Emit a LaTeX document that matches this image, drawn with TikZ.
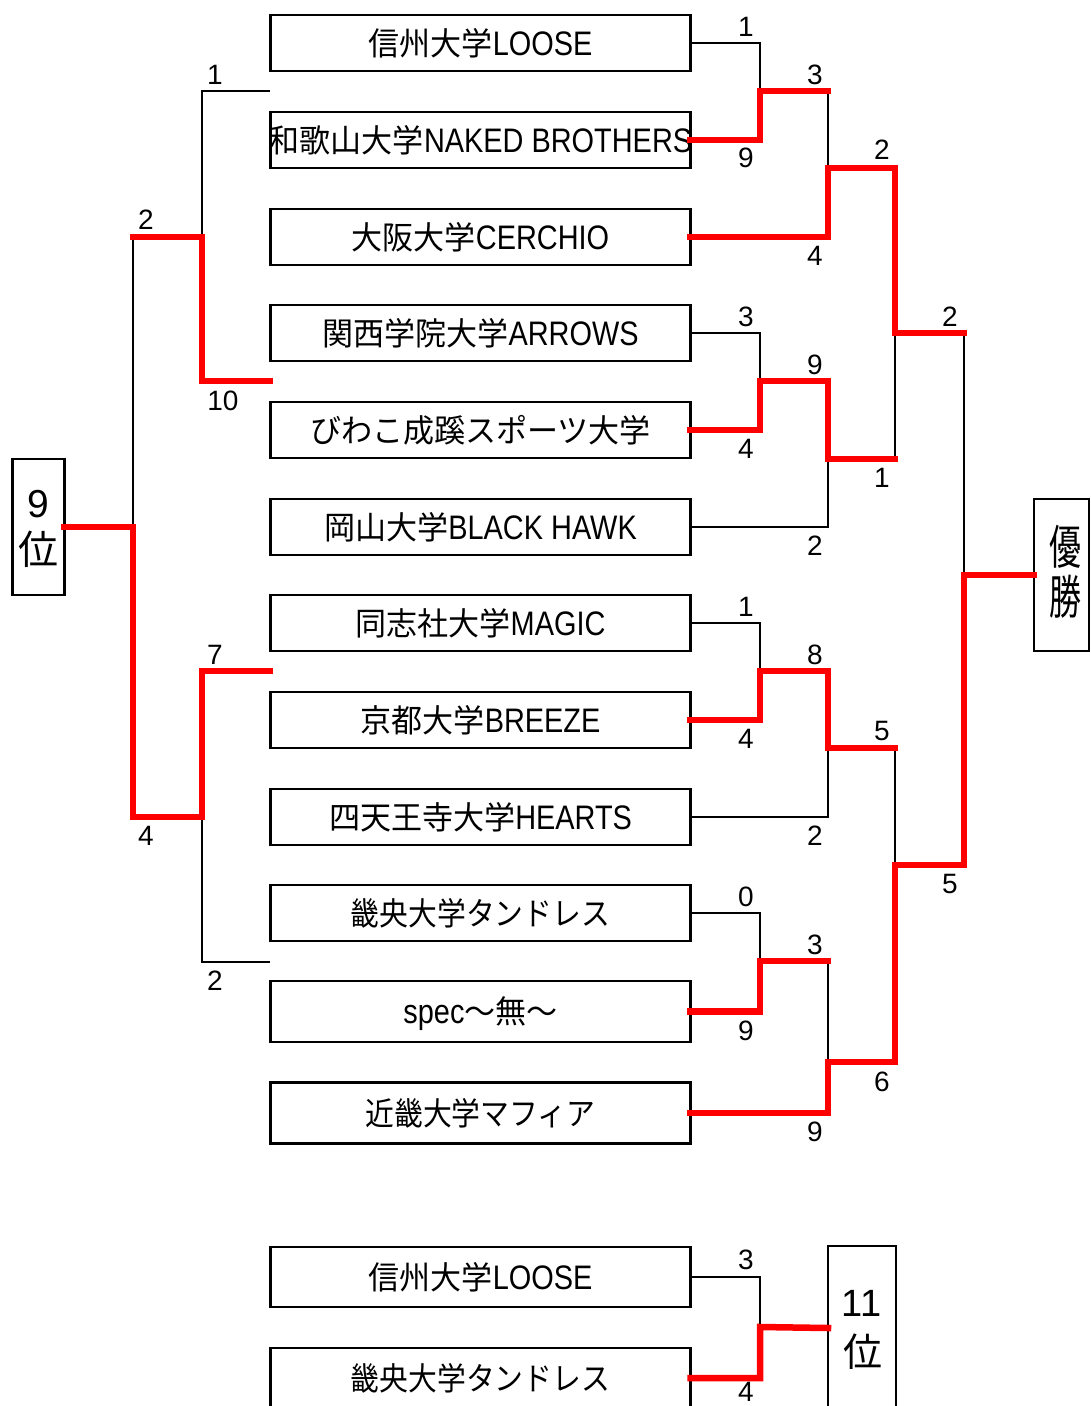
\documentclass[tikz,border=0pt]{standalone}
\usepackage{fontspec}
\setmainfont{Liberation Sans}
\newfontfamily\cjk{Noto Sans CJK JP}[FakeStretch=0.97]
\newfontfamily\cjkk{Noto Sans CJK JP}[FakeStretch=0.90]
\newfontfamily\cjkw{Noto Sans CJK JP}
\newfontfamily\cjkn{Noto Sans CJK JP}[FakeStretch=0.68]
\newfontfamily\lat{Liberation Sans}[FakeStretch=0.85]
\newcommand\jtxt[1]{{\fontsize{32}{40}\selectfont\cjk #1}}
\newcommand\ktxt[1]{{\fontsize{32}{40}\selectfont\cjkk #1}}
\begin{document}
\begin{tikzpicture}[x=1pt,y=-1pt,
  team/.style={draw, line width=2.8pt, minimum width=420pt, minimum height=56pt, inner sep=0pt, outer sep=0pt, text height=26pt, text depth=2pt, font=\fontsize{34}{40}\selectfont\lat},
  rank/.style={draw, line width=2.8pt, inner sep=0pt, outer sep=0pt},
  score/.style={inner sep=0pt, font=\fontsize{28}{32}\selectfont},
  lose/.style={draw=black, line width=2.6pt},
  win/.style={draw=red, line width=6.5pt, line join=miter, line cap=rect}]
\clip (0,0) rectangle (1091,1406);
\fill[white] (0,0) rectangle (1091,1406);

% teams
\node[team] (t1) at (480.5,43) {\jtxt{信州大学}LOOSE};
\node[team] (t2) at (480.5,140) {\makebox[400pt][c]{\jtxt{和歌山大学}NAKED BROTHERS}};
\node[team] (t3) at (480.5,237) {\jtxt{大阪大学}CERCHIO};
\node[team] (t4) at (480.5,333) {\jtxt{関西学院大学}ARROWS};
\node[team] (t5) at (480.5,430) {\jtxt{びわこ成蹊スポーツ大学}};
\node[team] (t6) at (480.5,527) {\jtxt{岡山大学}BLACK HAWK};
\node[team] (t7) at (480.5,623) {\jtxt{同志社大学}MAGIC};
\node[team] (t8) at (480.5,720) {\jtxt{京都大学}BREEZE};
\node[team] (t9) at (480.5,817) {\jtxt{四天王寺大学}HEARTS};
\node[team] (t10) at (480.5,913) {\ktxt{畿央大学タンドレス}};
\node[team, minimum height=61pt] (t11) at (480.5,1011.5) {spec\jtxt{〜無〜}};
\node[team, minimum height=61pt] (t12) at (480.5,1113) {\ktxt{近畿大学マフィア}};
\node[team, minimum height=60pt] (b1) at (480.5,1277) {\jtxt{信州大学}LOOSE};
\node[team, minimum height=60pt] (b2) at (480.5,1378) {\ktxt{畿央大学タンドレス}};

% rank boxes
\node[rank, minimum width=52pt, minimum height=136pt] (ninth) at (38.5,527) {};
\node[inner sep=0pt, font=\fontsize{39}{44}\selectfont] (ninthA) at (38.5,504) {9};
\node[inner sep=0pt, font=\fontsize{40}{44}\selectfont\cjkw] (ninthB) at (38,549.5) {位};
\node[rank, minimum width=55pt, minimum height=152pt] (champ) at (1061.5,575) {};
\node[inner sep=0pt, font=\fontsize{47}{50}\selectfont\cjkn] (champA) at (1065,547) {優};
\node[inner sep=0pt, font=\fontsize{47}{50}\selectfont\cjkn] (champB) at (1065,597) {勝};
\node[rank, minimum width=68pt, minimum height=164pt] (eleventh) at (862,1328) {};
\node[inner sep=0pt, font=\fontsize{38}{44}\selectfont] (eleventhA) at (861.5,1303.5) {11};
\node[inner sep=0pt, font=\fontsize{39}{44}\selectfont\cjkw] (eleventhB) at (862.5,1351.5) {位};

% junctions
\coordinate (mA) at (760,91);
\coordinate (mB) at (828,168);
\coordinate (mC) at (760,381);
\coordinate (mD) at (828,459);
\coordinate (mE) at (895,333);
\coordinate (mF) at (760,671);
\coordinate (mG) at (828,748);
\coordinate (mH) at (760,961);
\coordinate (mI) at (828,1062);
\coordinate (mJ) at (895,865);
\coordinate (mK) at (964,575);
\coordinate (lA) at (270,91);
\coordinate (lB) at (270,381);
\coordinate (lC) at (270,671);
\coordinate (lD) at (270,962);
\coordinate (mL1) at (202,237);
\coordinate (mL2) at (202,817);
\coordinate (mL3) at (133,527);
\coordinate (mM) at (760,1327);

% losing lines
\path[lose] (t1.east) -| (mA);
\path[lose] (mA -| mB) -- (mB);
\path[lose] (t4.east) -| (mC);
\path[lose] (t6.east) -| (mD);
\path[lose] (mD -| mE) -- (mE);
\path[lose] (mE -| mK) -- (mK);
\path[lose] (t7.east) -| (mF);
\path[lose] (t9.east) -| (mG);
\path[lose] (mG -| mJ) -- (mJ);
\path[lose] (t10.east) -| (mH);
\path[lose] (mH -| mI) -- (mI);
\path[lose] (lA) -| (mL1);
\path[lose] (lD) -| (mL2);
\path[lose] (mL1 -| mL3) -- (mL3);
\path[lose] (b1.east) -| (mM);

% winning lines
\path[win] (t2.east) -| (mA) -- (mA -| mB);
\path[win] (t3.east) -| (mB) -| (mE) -- (mE -| mK);
\path[win] (t5.east) -| (mC) -| (mD) -- (mD -| mE);
\path[win] (t8.east) -| (mF) -| (mG) -- (mG -| mJ);
\path[win] (t11.east) -| (mH) -- (mH -| mI);
\path[win] (t12.east) -| (mI) -| (mJ) -| (mK) -- (champ.west);
\path[win] (lB) -| (mL1) -- (mL1 -| mL3);
\path[win] (lC) -| (mL2) -| (mL3) -- (ninth.east);
\path[win] (b2.east) -| (mM) -- (eleventh.west);

% scores
\node[score] (s1) at (746,27) {1};
\node[score] (s2) at (746,158) {9};
\node[score] (s3) at (815,75) {3};
\node[score] (s4) at (815,256) {4};
\node[score] (s5) at (882,150) {2};
\node[score] (s6) at (746,317) {3};
\node[score] (s7) at (746,449) {4};
\node[score] (s8) at (815,365) {9};
\node[score] (s9) at (815,546) {2};
\node[score] (s10) at (882,478) {1};
\node[score] (s11) at (950,317) {2};
\node[score] (s12) at (746,607) {1};
\node[score] (s13) at (746,739) {4};
\node[score] (s14) at (815,655) {8};
\node[score] (s15) at (815,836) {2};
\node[score] (s16) at (882,731) {5};
\node[score] (s17) at (746,897) {0};
\node[score] (s18) at (746,1031) {9};
\node[score] (s19) at (815,945) {3};
\node[score] (s20) at (815,1132) {9};
\node[score] (s21) at (882,1082) {6};
\node[score] (s22) at (950,884) {5};
\node[score] (s23) at (215,75) {1};
\node[score] (s24) at (146,220) {2};
\node[score] (s25) at (223,401) {10};
\node[score] (s26) at (215,655) {7};
\node[score] (s27) at (146,836) {4};
\node[score] (s28) at (215,981) {2};
\node[score] (s29) at (746,1260) {3};
\node[score] (s30) at (746,1392) {4};
\end{tikzpicture}
\end{document}
